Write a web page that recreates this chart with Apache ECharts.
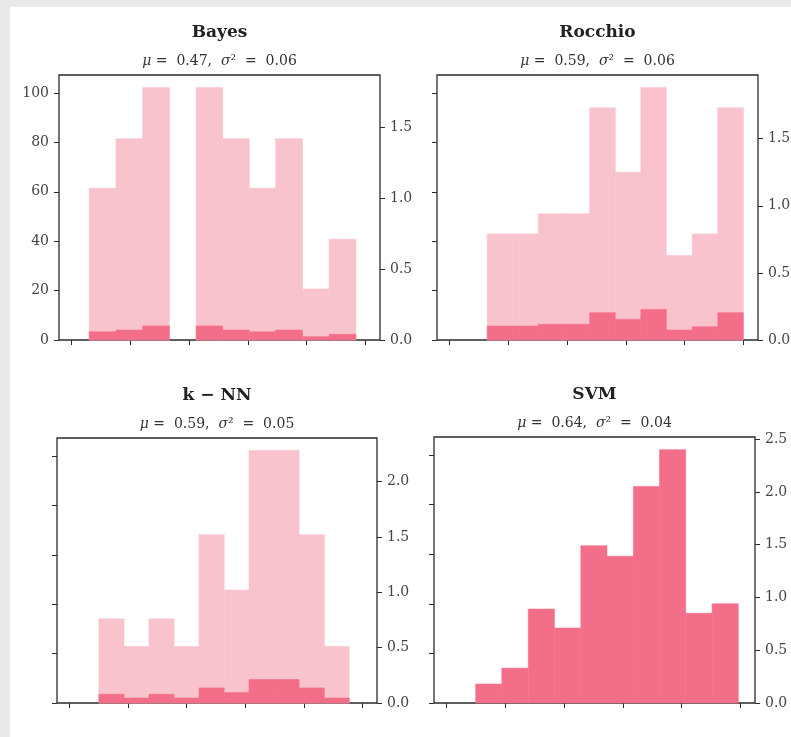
<!DOCTYPE html>
<html lang="en">
  <head>
    <meta charset="UTF-8" />
    <meta name="viewport" content="width=device-width, initial-scale=1.0" />
    <title>Score histograms</title>
    <script src="https://cdn.jsdelivr.net/npm/echarts@6/dist/echarts.min.js"></script>
    <style>
      html, body { margin: 0; padding: 0; background: #fff; }
      #chart { width: 791px; height: 737px; }
    </style>
  </head>
  <body>
    <div id="chart"></div>
    <script>
      // panel titles and stats
      const panelNames = ['Bayes', 'Rocchio', 'k \u2212 NN', 'SVM'];
      const panelMu = ['0.47', '0.59', '0.59', '0.64'];
      const panelVar = ['0.06', '0.06', '0.05', '0.04'];

      // bin edges (score axis)
      const bayesEdges = [0.06, 0.151, 0.242, 0.333, 0.424, 0.514, 0.605, 0.695, 0.786, 0.877, 0.968];
      const rocchioEdges = [0.128, 0.215, 0.302, 0.39, 0.477, 0.564, 0.651, 0.738, 0.826, 0.913, 1.0];
      const knnEdges = [0.1, 0.186, 0.271, 0.357, 0.442, 0.528, 0.613, 0.699, 0.784, 0.87, 0.955];
      const svmEdges = [0.099, 0.188, 0.278, 0.367, 0.457, 0.546, 0.636, 0.725, 0.814, 0.904, 0.993];

      // light bars (all samples) and dark bars, right-axis units
      const bayesLight = [1.07, 1.42, 1.78, 0, 1.78, 1.42, 1.07, 1.42, 0.36, 0.71];
      const bayesDark = [0.058, 0.07, 0.099, 0, 0.099, 0.07, 0.058, 0.07, 0.023, 0.04];
      const rocchioLight = [0.79, 0.79, 0.94, 0.94, 1.73, 1.25, 1.88, 0.63, 0.79, 1.73];
      const rocchioDark = [0.104, 0.104, 0.117, 0.117, 0.203, 0.154, 0.228, 0.074, 0.099, 0.203];
      const knnLight = [0.76, 0.51, 0.76, 0.51, 1.52, 1.02, 2.28, 2.28, 1.52, 0.51];
      const knnDark = [0.079, 0.045, 0.079, 0.045, 0.136, 0.094, 0.212, 0.212, 0.136, 0.045];
      const svmLight = [];
      const svmDark = [0.18, 0.33, 0.89, 0.71, 1.49, 1.39, 2.05, 2.4, 0.85, 0.94];

      // tick values
      const scoreTicks = [0, 0.2, 0.4, 0.6, 0.8, 1.0];
      const countTicks = [0, 20, 40, 60, 80, 100];
      const densityTicks = [
        [0, 0.5, 1.0, 1.5],
        [0, 0.5, 1.0, 1.5],
        [0, 0.5, 1.0, 1.5, 2.0],
        [0, 0.5, 1.0, 1.5, 2.0, 2.5],
      ];
      const countMax = 107.3;

      const panels = [
        { edges: bayesEdges, light: bayesLight, dark: bayesDark },
        { edges: rocchioEdges, light: rocchioLight, dark: rocchioDark },
        { edges: knnEdges, light: knnLight, dark: knnDark },
        { edges: svmEdges, light: svmLight, dark: svmDark },
      ];

      const grids = [
        { left: 59, top: 75, width: 321, height: 265 },
        { left: 437, top: 75, width: 321, height: 265 },
        { left: 57, top: 438, width: 320, height: 265 },
        { left: 434, top: 437, width: 321, height: 266 },
      ];

      const lightColor = '#f9c3ce';
      const darkColor = '#f36f89';
      const inkColor = '#2b2b2b';
      const font = 'DejaVu Serif';

      function binData(edges, values) {
        const out = [];
        for (let i = 0; i < values.length; i++) {
          out.push([edges[i], edges[i + 1], values[i]]);
        }
        return out;
      }

      function histSeries(idx, data, color) {
        return {
          type: 'custom',
          xAxisIndex: idx,
          yAxisIndex: idx * 2 + 1,
          data: data,
          silent: true,
          renderItem: function (params, api) {
            if (!(api.value(2) > 0)) return null;
            const p0 = api.coord([api.value(0), api.value(2)]);
            const p1 = api.coord([api.value(1), 0]);
            return {
              type: 'rect',
              shape: { x: p0[0], y: p0[1], width: p1[0] - p0[0], height: p1[1] - p0[1] },
              style: { fill: color, stroke: color, lineWidth: 0.6 },
            };
          },
        };
      }

      const tickStyle = { color: inkColor, width: 1 };
      const labelStyle = { color: '#444', fontFamily: font, fontSize: 14 };

      const option = {
        animation: false,
        backgroundColor: '#e9e9e9',
        grid: [],
        xAxis: [],
        yAxis: [],
        series: [],
        graphic: [
          { type: 'rect', z: -10, shape: { x: 10, y: 7, width: 781, height: 730 }, style: { fill: '#fff' } },
        ],
      };

      panels.forEach(function (p, i) {
        const g = grids[i];
        option.grid.push({
          left: g.left, top: g.top, width: g.width, height: g.height,
          show: true, borderColor: inkColor, borderWidth: 1.3, backgroundColor: '#fff',
          outerBoundsMode: 'none',
        });
        option.xAxis.push({
          type: 'value', gridIndex: i, min: -0.043, max: 1.05,
          axisLine: { show: false, onZero: false }, splitLine: { show: false },
          axisLabel: { show: false, customValues: scoreTicks },
          axisTick: { show: true, length: 5, customValues: scoreTicks, lineStyle: tickStyle },
        });
        option.yAxis.push({
          type: 'value', gridIndex: i, position: 'left', min: 0, max: countMax,
          axisLine: { show: false, onZero: false }, splitLine: { show: false },
          axisLabel: Object.assign({ show: i === 0, margin: 10, customValues: countTicks }, labelStyle),
          axisTick: { show: true, length: 5, customValues: countTicks, lineStyle: tickStyle },
        });
        const top = Math.max.apply(null, p.light.concat(p.dark)) * 1.05;
        option.yAxis.push({
          type: 'value', gridIndex: i, position: 'right', min: 0, max: top,
          axisLine: { show: false, onZero: false }, splitLine: { show: false },
          axisLabel: Object.assign({
            margin: 10, customValues: densityTicks[i],
            formatter: function (v) { return v.toFixed(1); },
          }, labelStyle),
          axisTick: { show: true, length: 5, customValues: densityTicks[i], lineStyle: tickStyle },
        });
        option.series.push(histSeries(i, binData(p.edges, p.light), lightColor));
        option.series.push(histSeries(i, binData(p.edges, p.dark), darkColor));

        const cx = g.left + g.width / 2;
        option.graphic.push({
          type: 'text', x: cx, y: g.top - 42,
          style: { text: panelNames[i], align: 'center', verticalAlign: 'middle',
            font: 'bold 17px "' + font + '"', fill: '#222' },
        });
        option.graphic.push({
          type: 'text', x: cx, y: g.top - 14,
          style: {
            text: '{i|\u03bc} =  ' + panelMu[i] + ',  {i|\u03c3}\u00b2  =  ' + panelVar[i],
            align: 'center', verticalAlign: 'middle',
            font: '14px "' + font + '"', fill: '#333',
            rich: { i: { fontStyle: 'italic', fontFamily: font, fontSize: 14, fill: '#333' } },
          },
        });
      });

      const chart = echarts.init(document.getElementById('chart'));
      chart.setOption(option);
    </script>
  </body>
</html>
